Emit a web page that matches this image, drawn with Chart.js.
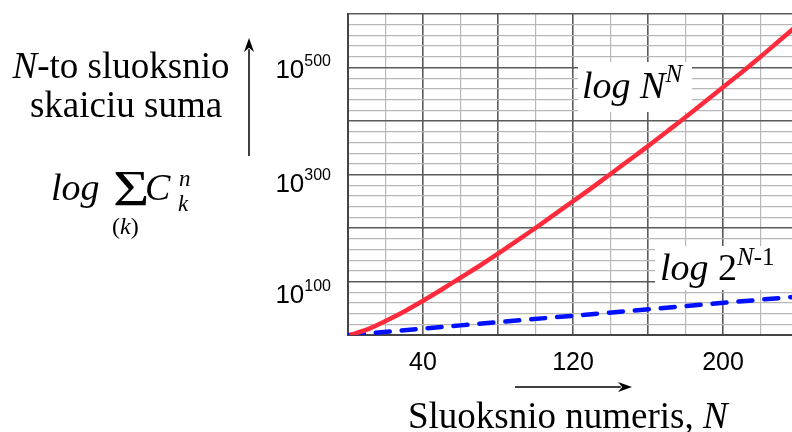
<!DOCTYPE html>
<html>
<head>
<meta charset="utf-8">
<script src="https://cdn.jsdelivr.net/npm/chart.js@4.4.1/dist/chart.umd.min.js"></script>
<style>
  html, body { margin: 0; padding: 0; background: #fff; overflow: hidden; }
  #wrap { width: 800px; height: 432px; }
</style>
</head>
<body>
<div id="wrap"><canvas id="layersChart" width="800" height="432"></canvas></div>
<script>
// values (y is the exponent of 10)
const nValues = [1, 10, 20, 30, 40, 50, 60, 70, 80, 90, 100, 110, 120, 130, 140, 150, 160, 170, 180, 190, 200, 210, 220, 230, 240];
const logNN = [0, 10, 26, 44, 64, 85, 107, 129, 152, 176, 200, 225, 250, 275, 301, 327, 353, 380, 407, 435, 463, 491, 520, 550, 580];
const blueN = [1, 60, 120, 180, 240];
const log2N1 = [0, 18, 36, 54, 72];
const xTickLabels = [40, 120, 200];
const yTickLabels = [100, 300, 500];
const yLabelDrop = [21, 17, 10];

const serif = '"Liberation Serif", "Times New Roman", serif';
const sans = '"Liberation Sans", Arial, sans-serif';

function drawRuns(ctx, x, y, runs) {
  runs.forEach(r => {
    ctx.font = r.font;
    ctx.fillText(r.t, x, y + (r.dy || 0));
    x += ctx.measureText(r.t).width + (r.gap || 0);
  });
  return x;
}

function runsWidth(ctx, runs) {
  let w = 0;
  runs.forEach(r => {
    ctx.font = r.font;
    w += ctx.measureText(r.t).width + (r.gap || 0);
  });
  return w;
}

function arrow(ctx, x1, y1, x2, y2) {
  const a = Math.atan2(y2 - y1, x2 - x1);
  const len = 14, half = 5;
  ctx.strokeStyle = '#000';
  ctx.fillStyle = '#000';
  ctx.lineWidth = 1.5;
  ctx.beginPath();
  ctx.moveTo(x1, y1);
  ctx.lineTo(x2 - Math.cos(a) * len * 0.8, y2 - Math.sin(a) * len * 0.8);
  ctx.stroke();
  ctx.beginPath();
  ctx.moveTo(x2, y2);
  ctx.lineTo(x2 - Math.cos(a) * len - Math.sin(a) * half, y2 - Math.sin(a) * len + Math.cos(a) * half);
  ctx.lineTo(x2 - Math.cos(a) * len * 0.7, y2 - Math.sin(a) * len * 0.7);
  ctx.lineTo(x2 - Math.cos(a) * len + Math.sin(a) * half, y2 - Math.sin(a) * len - Math.cos(a) * half);
  ctx.closePath();
  ctx.fill();
}

const boxesPlugin = {
  id: 'boxes',
  beforeDatasetsDraw(chart) {
    const ctx = chart.ctx;
    ctx.save();
    ctx.fillStyle = '#fff';
    ctx.fillRect(578, 62, 114, 50);
    ctx.fillRect(655, 246, 145, 44);
    ctx.restore();
  }
};

const textPlugin = {
  id: 'texts',
  afterDraw(chart) {
    const ctx = chart.ctx;
    const xs = chart.scales.x, ys = chart.scales.y;
    ctx.save();
    ctx.fillStyle = '#000';
    ctx.textBaseline = 'alphabetic';
    ctx.textAlign = 'left';

    // x tick labels
    ctx.font = '25px ' + sans;
    ctx.textAlign = 'center';
    xTickLabels.forEach(v => ctx.fillText(String(v), xs.getPixelForValue(v), 370));
    ctx.textAlign = 'left';

    // y tick labels 10^n
    yTickLabels.forEach((v, i) => {
      const runs = [
        { t: '10', font: '26px ' + sans },
        { t: String(v), font: '16px ' + sans, dy: -12 }
      ];
      const w = runsWidth(ctx, runs);
      drawRuns(ctx, 331 - w, ys.getPixelForValue(v) + yLabelDrop[i], runs);
    });

    // curve labels
    drawRuns(ctx, 582, 98, [
      { t: 'log ', font: 'italic 38px ' + serif },
      { t: 'N', font: 'italic 38px ' + serif },
      { t: 'N', font: 'italic 25px ' + serif, dy: -16 }
    ]);
    drawRuns(ctx, 660, 280, [
      { t: 'log ', font: 'italic 38px ' + serif },
      { t: '2', font: '38px ' + serif },
      { t: 'N', font: 'italic 25px ' + serif, dy: -15 },
      { t: '-1', font: '25px ' + serif, dy: -15 }
    ]);

    // y axis title
    const line1 = [
      { t: 'N', font: 'italic 37px ' + serif },
      { t: '-to sluoksnio', font: '37px ' + serif }
    ];
    drawRuns(ctx, 121 - runsWidth(ctx, line1) / 2, 78, line1);
    ctx.font = '37px ' + serif;
    ctx.textAlign = 'center';
    ctx.fillText('skaiciu suma', 126, 117);

    // formula log sum C
    ctx.textAlign = 'left';
    ctx.font = 'italic 38px ' + serif;
    ctx.fillText('log', 51, 200);
    ctx.save();
    ctx.translate(113, 205);
    ctx.scale(1.25, 1);
    ctx.font = '50px ' + serif;
    ctx.fillText('\u03A3', 0, 0);
    ctx.restore();
    ctx.font = 'italic 38px ' + serif;
    ctx.fillText('C', 145, 200);
    ctx.font = 'italic 23px ' + serif;
    ctx.fillText('n', 179, 186);
    ctx.fillText('k', 178, 211);
    drawRuns(ctx, 112, 234, [
      { t: '(', font: '24px ' + serif },
      { t: 'k', font: 'italic 24px ' + serif },
      { t: ')', font: '24px ' + serif }
    ]);

    // x axis title
    ctx.textAlign = 'left';
    drawRuns(ctx, 408, 428, [
      { t: 'Sluoksnio numeris, ', font: '37px ' + serif },
      { t: 'N', font: 'italic 37px ' + serif }
    ]);

    arrow(ctx, 249, 156, 249, 38);
    arrow(ctx, 515, 387, 632, 387);
    ctx.restore();
  }
};

const ctxLayers = document.getElementById('layersChart').getContext('2d');
new Chart(ctxLayers, {
  type: 'line',
  data: {
    datasets: [{
      label: 'log N^N',
      data: nValues.map((n, i) => ({ x: n, y: logNN[i] })),
      borderColor: '#ff2a3c',
      borderWidth: 4.5,
      pointRadius: 0,
      cubicInterpolationMode: 'monotone',
      fill: false
    }, {
      label: 'log 2^(N-1)',
      data: blueN.map((n, i) => ({ x: n, y: log2N1[i] })),
      borderColor: '#0010ff',
      borderWidth: 4.5,
      borderDash: [14, 12],
      borderCapStyle: 'round',
      pointRadius: 0,
      fill: false
    }]
  },
  options: {
    responsive: false,
    animation: false,
    layout: { padding: { left: 348, top: 14, right: 2, bottom: 97 } },
    plugins: {
      legend: { display: false },
      tooltip: { enabled: false }
    },
    scales: {
      x: {
        type: 'linear',
        min: 0,
        max: 240,
        ticks: { stepSize: 20, display: false },
        grid: {
          color: c => c.tick && c.tick.value % 40 === 0 ? '#5a5a5a' : '#b8b8b8',
          lineWidth: c => c.tick && c.tick.value % 40 === 0 ? 1.6 : 1.2,
          drawTicks: false
        },
        border: { color: '#444', width: 2 }
      },
      y: {
        min: 0,
        max: 600,
        ticks: { stepSize: 20, display: false },
        grid: {
          color: c => c.tick && c.tick.value % 100 === 0 ? '#5a5a5a' : '#b8b8b8',
          lineWidth: c => c.tick && c.tick.value % 100 === 0 ? 1.6 : 1.2,
          drawTicks: false
        },
        border: { color: '#444', width: 2 }
      }
    }
  },
  plugins: [boxesPlugin, textPlugin]
});
</script>
</body>
</html>
